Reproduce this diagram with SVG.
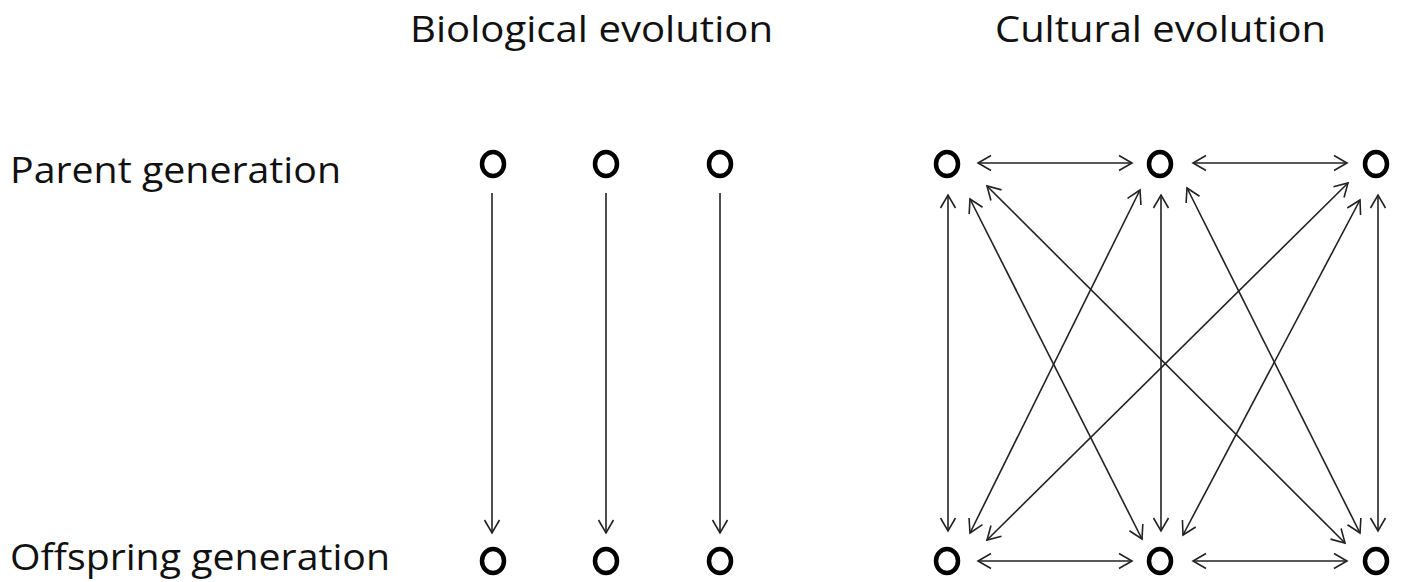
<svg xmlns="http://www.w3.org/2000/svg" width="1404" height="582" viewBox="0 0 1404 582">
<style>
text{font-family:"Open Sans","Liberation Sans",sans-serif;font-size:36px;fill:#111}
.node{fill:none;stroke:#000;stroke-width:4.5}
.c line{stroke:#222;stroke-width:1.6;fill:none}
.one{marker-end:url(#ah)}
.two{marker-start:url(#ah);marker-end:url(#ah)}
</style>
<defs>
<marker id="ah" markerUnits="userSpaceOnUse" markerWidth="20" markerHeight="20" viewBox="-15 -10 17 20" refX="0" refY="0" orient="auto-start-reverse">
<path d="M-13,-7.5 L0,0 L-13,7.5" fill="none" stroke="#222" stroke-width="1.6"/>
</marker>
</defs>
<rect width="1404" height="582" fill="#fff"/>
<g id="labels">
<text x="410" y="42" textLength="363" lengthAdjust="spacingAndGlyphs">Biological evolution</text>
<text x="995" y="42" textLength="331" lengthAdjust="spacingAndGlyphs">Cultural evolution</text>
<text x="10" y="183" textLength="331" lengthAdjust="spacingAndGlyphs">Parent generation</text>
<text x="10" y="570" textLength="380" lengthAdjust="spacingAndGlyphs">Offspring generation</text>
</g>
<g id="bio-p1"><ellipse class="node" cx="493" cy="164" rx="11" ry="12"/></g>
<g id="bio-p2"><ellipse class="node" cx="606" cy="164" rx="11" ry="12"/></g>
<g id="bio-p3"><ellipse class="node" cx="720" cy="164" rx="11" ry="12"/></g>
<g id="bio-o1"><ellipse class="node" cx="493" cy="561" rx="11" ry="12"/></g>
<g id="bio-o2"><ellipse class="node" cx="606" cy="561" rx="11" ry="12"/></g>
<g id="bio-o3"><ellipse class="node" cx="720" cy="561" rx="11" ry="12"/></g>
<g id="cul-p1"><ellipse class="node" cx="947" cy="164" rx="11" ry="12"/></g>
<g id="cul-p2"><ellipse class="node" cx="1160" cy="164" rx="11" ry="12"/></g>
<g id="cul-p3"><ellipse class="node" cx="1376" cy="164" rx="11" ry="12"/></g>
<g id="cul-o1"><ellipse class="node" cx="947" cy="561" rx="11" ry="12"/></g>
<g id="cul-o2"><ellipse class="node" cx="1160" cy="561" rx="11" ry="12"/></g>
<g id="cul-o3"><ellipse class="node" cx="1376" cy="561" rx="11" ry="12"/></g>
<g id="connectors" class="c">
<line class="one" x1="492" y1="193" x2="492" y2="533"/>
<line class="one" x1="606" y1="193" x2="606" y2="533"/>
<line class="one" x1="720" y1="193" x2="720" y2="533"/>
<line class="two" x1="978" y1="163" x2="1132" y2="163"/>
<line class="two" x1="1193" y1="163" x2="1347" y2="163"/>
<line class="two" x1="978" y1="561" x2="1132" y2="561"/>
<line class="two" x1="1193" y1="561" x2="1347" y2="561"/>
<line class="two" x1="948" y1="195" x2="948" y2="531"/>
<line class="two" x1="1161" y1="195" x2="1161" y2="531"/>
<line class="two" x1="1378" y1="195" x2="1378" y2="531"/>
<line class="two" x1="970" y1="199" x2="1142" y2="539"/>
<line class="two" x1="987" y1="186" x2="1345" y2="543"/>
<line class="two" x1="1140" y1="190" x2="970" y2="533"/>
<line class="two" x1="1187" y1="188" x2="1360" y2="533"/>
<line class="two" x1="1348" y1="183" x2="987" y2="540"/>
<line class="two" x1="1360" y1="200" x2="1183" y2="535"/>
</g>
</svg>
